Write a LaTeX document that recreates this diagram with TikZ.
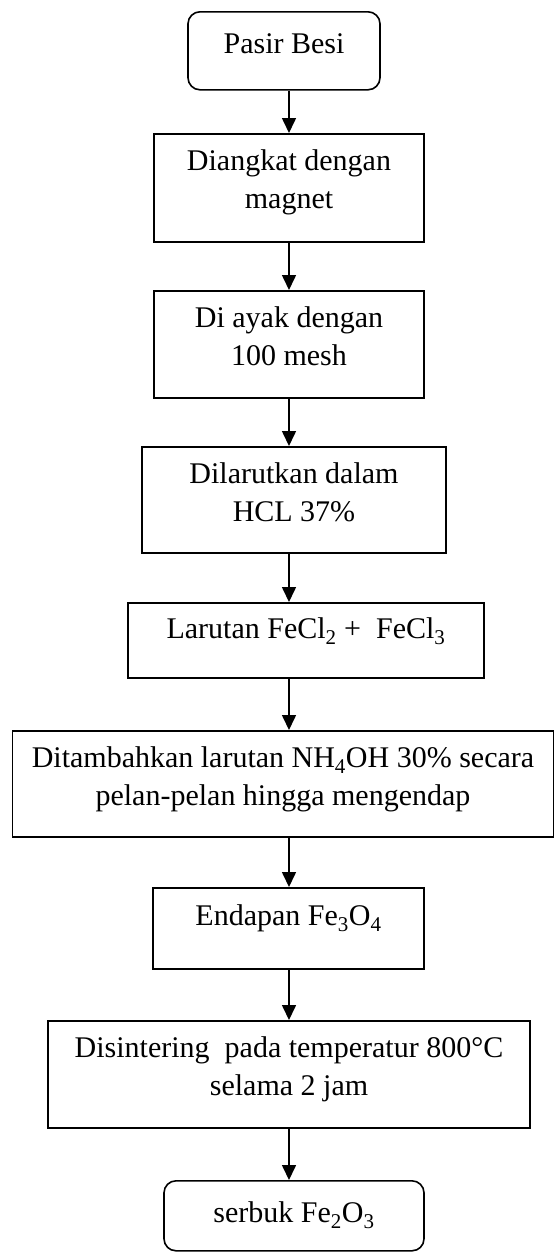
\documentclass[tikz,border=0pt]{standalone}
\usepackage{fontspec}
\setmainfont{Liberation Serif}
\usetikzlibrary{arrows.meta}
% box text: [first baseline]{width}{height}{text}
\newcommand{\flowtext}[4][37]{\parbox[t][#3pt][t]{#2pt}{\centering\rule{0pt}{#1pt}#4}}
\begin{document}
\begin{tikzpicture}[x=1pt,y=-1pt,
    proc/.style={draw,line width=1.6pt,inner sep=0pt,anchor=north,
      font=\fontsize{30}{38}\selectfont},
    term/.style={proc,rounded corners=12pt},
    arr/.style={-{Triangle[length=15pt,width=14pt]},line width=1.6pt}]
    \useasboundingbox (0,0) rectangle (555,1253);
    \coordinate (axis) at (289,0);
    % langkah-langkah
    \node[term] (pasir) at (284,11) {\flowtext[42]{192}{78}{Pasir Besi}};
    \node[proc] (magnet) at (289,133) {\flowtext{270}{108}{Diangkat dengan\\magnet}};
    \node[proc] (ayak) at (289,290) {\flowtext{270}{107}{Di ayak dengan\\100 mesh}};
    \node[proc] (larut) at (294,446) {\flowtext{304}{106}{Dilarutkan dalam\\HCL 37\%}};
    \node[proc] (fecl) at (306,602) {\flowtext[36]{356}{75}{Larutan FeCl\textsubscript{2} +\ \ FeCl\textsubscript{3}}};
    \node[proc] (nh) at (283,730) {\flowtext{541}{106}{Ditambahkan larutan NH\textsubscript{4}OH 30\% secara\\pelan-pelan hingga mengendap}};
    \node[proc] (endap) at (288.5,887) {\flowtext[38]{271}{81}{Endapan Fe\textsubscript{3}O\textsubscript{4}}};
    \node[proc] (sinter) at (289,1020) {\flowtext{482}{107}{Disintering\ \ pada temperatur 800°C\\selama 2 jam}};
    \node[term] (serbuk) at (294,1180) {\flowtext[42]{260}{70}{serbuk Fe\textsubscript{2}O\textsubscript{3}}};
    % panah
    \foreach \a/\b in {pasir/magnet,magnet/ayak,ayak/larut,larut/fecl,fecl/nh,nh/endap,endap/sinter,sinter/serbuk}
      \draw[arr] (\a.south -| axis) -- (\b.north -| axis);
\end{tikzpicture}
\end{document}
